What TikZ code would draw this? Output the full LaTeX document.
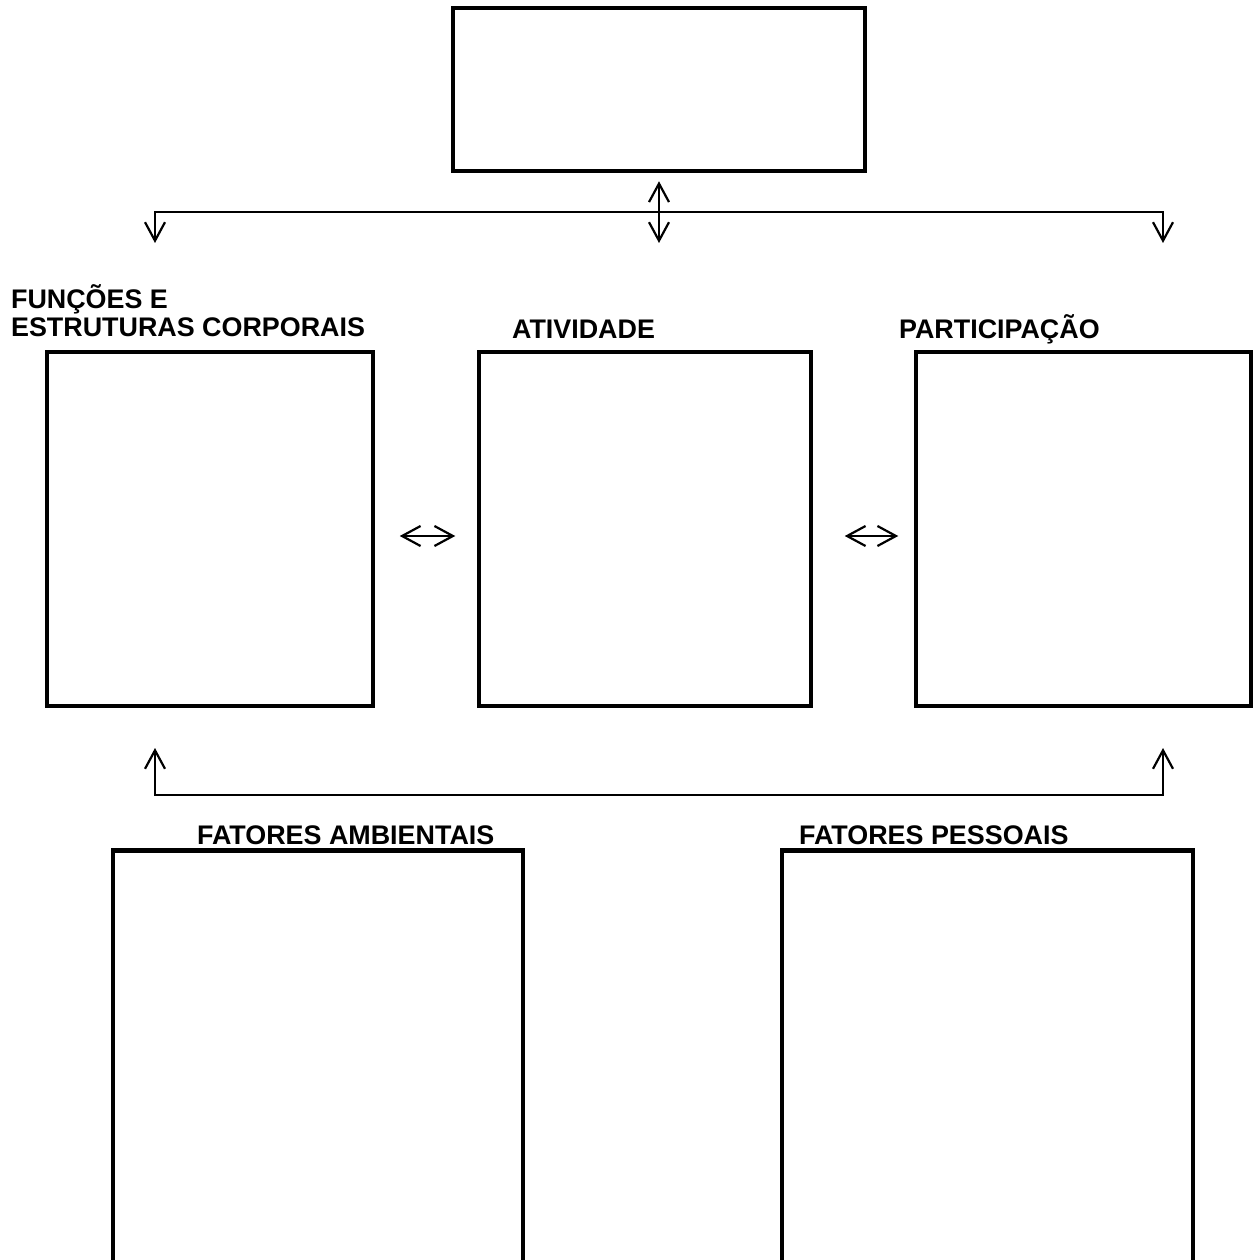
\documentclass[tikz,border=0pt]{standalone}
\usepackage{fontspec}
\setmainfont{Liberation Sans}
\usetikzlibrary{arrows.meta}
\tikzset{>={Straight Barb[length=0.37cm,width=0.4cm]}}

\begin{document}
\begin{tikzpicture}[x=0.02cm, y=-0.02cm, line width=1.25pt,
    box/.style={draw, line width=2.6pt, inner sep=0pt},
    lbl/.style={font=\bfseries\fontsize{15.3}{16}\selectfont, inner sep=0pt, anchor=base west}]
        \useasboundingbox (0,0) rectangle (1257,1260);
        % caixas
        \node[box, minimum width=8.24cm, minimum height=3.26cm] (topo) at (659,89.5) {};
        \node[box, minimum width=6.52cm, minimum height=7.08cm] (fun) at (210,529) {};
        \node[box, minimum width=6.64cm, minimum height=7.08cm] (ativ) at (645,529) {};
        \node[box, minimum width=6.70cm, minimum height=7.08cm] (part) at (1083.5,529) {};
        \node[box, minimum width=8.20cm, minimum height=10cm, anchor=north] (amb) at (318,848) {};
        \node[box, minimum width=8.22cm, minimum height=10cm, anchor=north] (pes) at (987.5,848) {};
        % titulos
        \node[lbl, align=left] (lfun) at (10,337) {FUNÇÕES E\\ESTRUTURAS CORPORAIS};
        \node[lbl] (lativ) at (511,338) {ATIVIDADE};
        \node[lbl] (lpart) at (898,338) {PARTICIPAÇÃO};
        \node[lbl] (lamb) at (196,844) {FATORES AMBIENTAIS};
        \node[lbl] (lpes) at (798,844) {FATORES PESSOAIS};
        % ligacoes
        \coordinate (a1) at (155,212);
        \coordinate (a2) at (1163,212);
        \coordinate (a3) at (155,243);
        \coordinate (a4) at (1163,243);
        \coordinate (a5) at (659,243);
        \coordinate (b1) at (155,795);
        \coordinate (b2) at (1163,795);
        \coordinate (b3) at (155,748);
        \coordinate (b4) at (1163,748);
        \draw[<->] (a3)--(a1)--(a2)--(a4);
        \draw[<->, shorten <=0.16cm] (topo.south)--(a5);
        \draw[<->] (b3)--(b1)--(b2)--(b4);
        \draw[<->, shorten <=0.49cm, shorten >=0.43cm] ([yshift=-0.14cm]fun.east)--([yshift=-0.14cm]ativ.west);
        \draw[<->, shorten <=0.63cm, shorten >=0.31cm] ([yshift=-0.14cm]ativ.east)--([yshift=-0.14cm]part.west);
    \end{tikzpicture}
\end{document}
